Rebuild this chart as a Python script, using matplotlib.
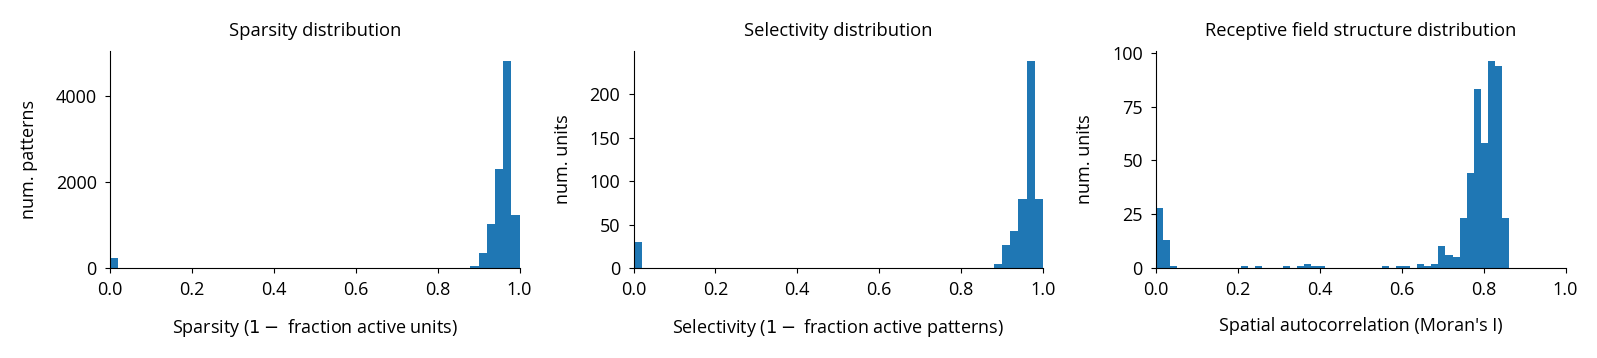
import numpy as np
import matplotlib
matplotlib.use('Agg')
import matplotlib.pyplot as plt

plt.rcParams['font.family'] = ['Open Sans', 'DejaVu Sans']
plt.rcParams['font.size'] = 13

# sparsity: 50 bins from 0 to 1, counts of patterns
sparsity_edges = np.linspace(0.0, 1.0, 51)
sparsity_counts = np.zeros(50)
sparsity_counts[0] = 233
sparsity_counts[44:50] = [40, 350, 1030, 2300, 4800, 1240]

# selectivity: 50 bins from 0 to 1, counts of units
selectivity_edges = np.linspace(0.0, 1.0, 51)
selectivity_counts = np.zeros(50)
selectivity_counts[0] = 30
selectivity_counts[44:50] = [5, 26, 43, 80, 238, 79]

# spatial autocorrelation (Moran's I): 50 bins between min and max of the data
moran_edges = np.linspace(0.0, 0.862, 51)
moran_counts = np.array([
    28, 13, 1, 0, 0, 0, 0, 0, 0, 0,
    0, 0, 1, 0, 1, 0, 0, 0, 1, 0,
    1, 2, 1, 1, 0, 0, 0, 0, 0, 0,
    0, 0, 1, 0, 1, 1, 0, 2, 1, 2,
    10, 6, 5, 23, 44, 83, 58, 96, 94, 23,
])

panels = [
    (sparsity_edges, sparsity_counts, 'Sparsity distribution',
     'Sparsity ($1-$ fraction active units)', 'num. patterns', [0, 2000, 4000]),
    (selectivity_edges, selectivity_counts, 'Selectivity distribution',
     'Selectivity ($1-$ fraction active patterns)', 'num. units', [0, 50, 100, 150, 200]),
    (moran_edges, moran_counts, 'Receptive field structure distribution',
     "Spatial autocorrelation (Moran's I)", 'num. units', [0, 25, 50, 75, 100]),
]

fig = plt.figure(figsize=(15.97, 3.58), dpi=100)
lefts = [0.0689, 0.3967, 0.7239]
for left, (edges, counts, title, xlabel, ylabel, yticks) in zip(lefts, panels):
    ax = fig.add_axes([left, 0.2514, 0.2564, 0.606])
    centers = 0.5 * (edges[:-1] + edges[1:])
    ax.hist(centers, bins=edges, weights=counts, color='#1f77b4')
    ax.set_xlim(0, 1)
    ax.set_yticks(yticks)
    ax.set_title(title, fontsize=13.2, pad=11)
    ax.set_xlabel(xlabel, labelpad=13)
    ax.set_ylabel(ylabel, labelpad=13)
    ax.spines['top'].set_visible(False)
    ax.spines['right'].set_visible(False)
    ax.tick_params(pad=6)

fig.savefig('out.png', dpi=100)
